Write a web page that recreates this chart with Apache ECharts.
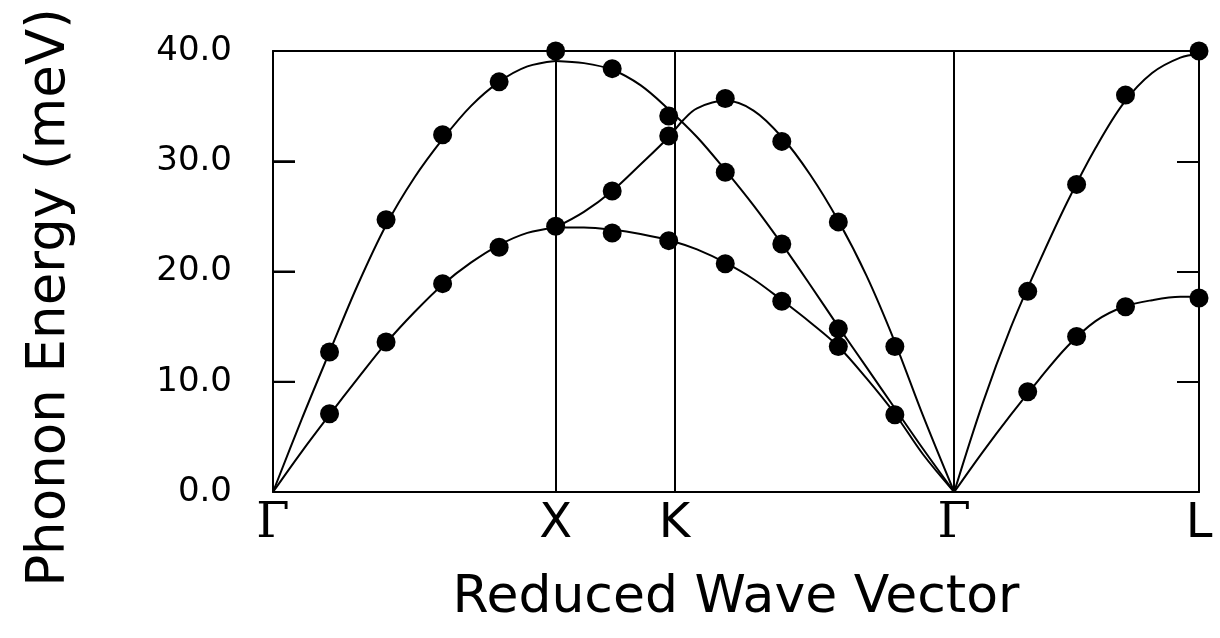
<!DOCTYPE html>
<html>
<head>
<meta charset="utf-8">
<script src="https://cdn.jsdelivr.net/npm/echarts@6/dist/echarts.min.js"></script>
<style>
  html, body { margin: 0; padding: 0; background: #ffffff; }
  #chart { width: 1220px; height: 638px; }
</style>
</head>
<body>
<div id="chart"></div>
<script>
// ---- symmetry points along the reduced wave vector path ----
const symLabels = ['Γ', 'X', 'K', 'Γ', 'L'];
const symPos = [0, 1.0, 1.42, 2.41, 3.276];
const yTicks = [0, 10, 20, 30, 40];

// ---- measured phonon energies (meV): [q, E] ----
const ptsGX_upper = [[0.2, 12.7], [0.4, 24.7], [0.6, 32.4], [0.8, 37.2], [1.0, 40.0]];
const ptsGX_lower = [[0.2, 7.1], [0.4, 13.6], [0.6, 18.9], [0.8, 22.2], [1.0, 24.1]];
const ptsXG_a = [[1.2, 38.4], [1.4, 34.1], [1.6, 29.0], [1.8, 22.5], [2.0, 14.8]];
const ptsXG_b = [[1.2, 27.3], [1.4, 32.3], [1.6, 35.7], [1.8, 31.8], [2.0, 24.5], [2.2, 13.2]];
const ptsXG_c = [[1.2, 23.5], [1.4, 22.8], [1.6, 20.7], [1.8, 17.3], [2.0, 13.2], [2.2, 7.0]];
const ptsGL_upper = [[2.67, 18.2], [2.843, 27.9], [3.016, 36.0], [3.276, 40.0]];
const ptsGL_lower = [[2.67, 9.1], [2.843, 14.1], [3.016, 16.8], [3.276, 17.6]];

// ---- fitted dispersion curves: [q, E] ----
const curveGX_upper = [[0, 0], [0.1, 6.5], [0.2, 12.7], [0.3, 18.8], [0.4, 24.2], [0.5, 28.5],
  [0.6, 32.0], [0.7, 35.0], [0.8, 37.2], [0.9, 38.6], [1.0, 39.1]];
const curveGX_lower = [[0, 0], [0.1, 3.6], [0.2, 7.0], [0.3, 10.3], [0.4, 13.5], [0.5, 16.3],
  [0.6, 18.8], [0.7, 20.8], [0.8, 22.4], [0.9, 23.5], [1.0, 24.0]];
const curveXG_a = [[1.0, 39.1], [1.1, 38.9], [1.2, 38.3], [1.3, 36.9], [1.4, 34.7], [1.5, 32.2],
  [1.6, 29.2], [1.7, 26.0], [1.8, 22.5], [1.9, 18.8], [2.0, 15.0], [2.1, 11.3], [2.2, 7.6],
  [2.3, 3.9], [2.41, 0]];
const curveXG_b = [[1.0, 24.0], [1.1, 25.4], [1.2, 27.3], [1.3, 29.7], [1.4, 32.2], [1.45, 33.7],
  [1.5, 34.8], [1.6, 35.5], [1.7, 34.6], [1.8, 32.2], [1.9, 28.8], [2.0, 24.6], [2.1, 19.6],
  [2.2, 13.6], [2.3, 6.9], [2.41, 0]];
const curveXG_c = [[1.0, 24.0], [1.1, 24.0], [1.2, 23.8], [1.3, 23.4], [1.42, 22.7], [1.5, 22.0],
  [1.6, 20.8], [1.7, 19.3], [1.8, 17.4], [1.9, 15.4], [2.0, 13.2], [2.1, 10.3], [2.2, 7.1],
  [2.3, 3.4], [2.41, 0]];
const curveGL_upper = [[2.41, 0], [2.51, 8.0], [2.61, 14.9], [2.71, 20.8], [2.81, 26.3], [2.91, 31.2],
  [3.01, 35.3], [3.11, 38.0], [3.21, 39.4], [3.276, 39.7]];
const curveGL_lower = [[2.41, 0], [2.51, 3.6], [2.61, 7.0], [2.71, 10.2], [2.81, 13.2], [2.91, 15.5],
  [3.01, 16.8], [3.11, 17.4], [3.21, 17.7], [3.276, 17.7]];

const FONT = 'DejaVu Sans';
const BLACK = '#000000';
const TICK_LEN = 22;

function curve(data) {
  return {
    type: 'line', data: data, smooth: 0.35, showSymbol: false, symbol: 'none',
    lineStyle: { color: BLACK, width: 2 }, silent: true, z: 3
  };
}
function points(data) {
  return {
    type: 'scatter', data: data, symbol: 'circle', symbolSize: 19,
    itemStyle: { color: BLACK, opacity: 1 }, z: 4, silent: true
  };
}
function axisLine() {
  return { show: true, onZero: false, lineStyle: { color: BLACK, width: 2 } };
}
function innerTicks() {
  return { show: true, inside: true, length: TICK_LEN, lineStyle: { color: BLACK, width: 2 } };
}

const series = [
  curve(curveGX_upper), curve(curveGX_lower), curve(curveXG_a), curve(curveXG_b),
  curve(curveXG_c), curve(curveGL_upper), curve(curveGL_lower),
  points(ptsGX_upper), points(ptsGX_lower), points(ptsXG_a), points(ptsXG_b),
  points(ptsXG_c), points(ptsGL_upper), points(ptsGL_lower),
  {
    // inward tick marks on the left frame edge, placed through the axes' scales
    type: 'custom', silent: true, z: 10, clip: false,
    data: yTicks.slice(1, -1).map(v => [symPos[0], v]),
    renderItem: function (params, api) {
      const p = api.coord([api.value(0), api.value(1)]);
      return {
        type: 'line',
        shape: { x1: p[0], y1: p[1], x2: p[0] + TICK_LEN, y2: p[1] },
        style: { stroke: BLACK, lineWidth: 2 }
      };
    }
  }
];
// vertical lines at interior symmetry points
series[0].markLine = {
  silent: true, symbol: ['none', 'none'], label: { show: false },
  lineStyle: { color: BLACK, width: 2, type: 'solid' },
  data: symPos.slice(1, 4).map(v => ({ xAxis: v }))
};

const chart = echarts.init(document.getElementById('chart'), null, { renderer: 'canvas' });
chart.setOption({
  animation: false,
  backgroundColor: '#ffffff',
  grid: { left: 273, right: 21, top: 51, bottom: 146, show: false },
  xAxis: [{
    type: 'value', min: symPos[0], max: symPos[symPos.length - 1], position: 'bottom',
    axisLine: axisLine(),
    axisTick: { show: false },
    splitLine: { show: false },
    name: 'Reduced Wave Vector', nameLocation: 'middle', nameGap: 80,
    nameTextStyle: { fontFamily: FONT, fontSize: 52, color: BLACK },
    axisLabel: {
      customValues: symPos, showMinLabel: true, showMaxLabel: true,
      margin: 9, color: BLACK, fontFamily: FONT, fontSize: 48,
      formatter: function (v) {
        let best = 0;
        symPos.forEach((p, i) => { if (Math.abs(p - v) < Math.abs(symPos[best] - v)) best = i; });
        const s = symLabels[best];
        return s === 'Γ' ? '{g|Γ}' : s;
      },
      rich: { g: { fontFamily: 'DejaVu Serif', fontSize: 48, color: BLACK } }
    }
  }, {
    type: 'value', min: symPos[0], max: symPos[symPos.length - 1], position: 'top',
    axisLine: axisLine(),
    axisTick: { show: false }, axisLabel: { show: false }, splitLine: { show: false }
  }],
  yAxis: [{
    type: 'value', min: yTicks[0], max: yTicks[yTicks.length - 1], interval: 10, position: 'left',
    axisLine: axisLine(),
    axisTick: innerTicks(),
    splitLine: { show: false },
    axisLabel: {
      margin: 41, color: BLACK, fontFamily: FONT, fontSize: 34,
      formatter: v => v.toFixed(1)
    },
    name: 'Phonon Energy (meV)', nameLocation: 'middle', nameRotate: 90, nameGap: 196,
    nameTextStyle: { fontFamily: FONT, fontSize: 53, color: BLACK, padding: [0, 52, 0, 0] }
  }, {
    type: 'value', min: yTicks[0], max: yTicks[yTicks.length - 1], interval: 10, position: 'right',
    axisLine: axisLine(), axisTick: innerTicks(),
    axisLabel: { show: false }, splitLine: { show: false }
  }],
  series: series
});
</script>
</body>
</html>
